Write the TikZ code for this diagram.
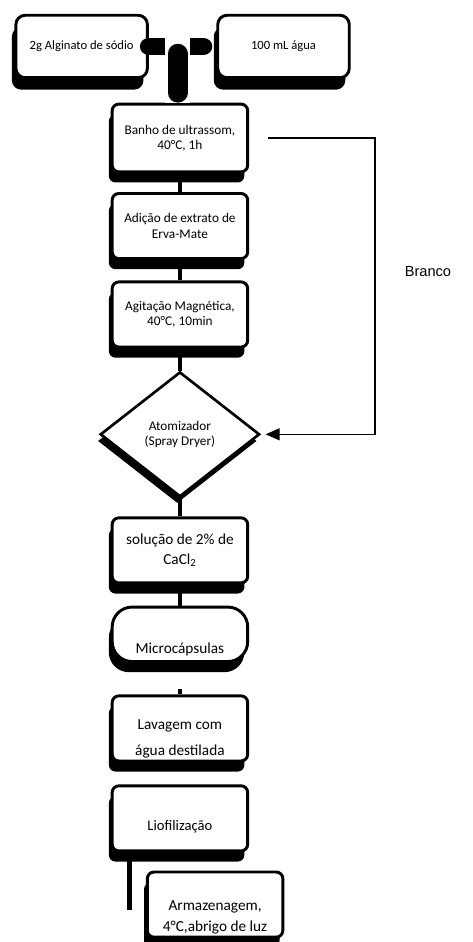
\documentclass[tikz,border=0pt]{standalone}
\usepackage{fontspec}
\setmainfont{Carlito}
\newfontfamily\arialfont{Liberation Sans}
\usetikzlibrary{arrows.meta, shapes.geometric, shadows}
\newcommand{\lowtext}[1]{\rule{0pt}{#1}}

\begin{document}
\begin{tikzpicture}[
    src/.style={draw, line width=2.2pt, rounded corners=7pt, fill=white,
                align=center, font=\fontsize{9.5}{11}\selectfont,
                minimum width=99pt, minimum height=47pt, inner sep=2pt,
                drop shadow={shadow xshift=-3pt, shadow yshift=-9pt,
                             opacity=1, fill=black}},
    stage/.style={draw, line width=2.2pt, rounded corners=5pt, fill=white,
                  align=center, font=\fontsize{10}{11.5}\selectfont,
                  minimum width=102pt, minimum height=49pt, inner sep=2pt,
                  drop shadow={shadow xshift=-2.5pt, shadow yshift=-8pt,
                               opacity=1, fill=black}},
    big/.style={font=\fontsize{11.5}{15}\selectfont},
    atomz/.style={diamond, draw, line width=2pt, fill=white, align=center,
                  font=\fontsize{10}{11}\selectfont, inner sep=0pt,
                  minimum width=120pt, minimum height=94pt,
                  drop shadow={shadow xshift=-2pt, shadow yshift=-5pt,
                               opacity=1, fill=black}},
    link/.style={line width=3.6pt},
    tee/.style={line width=13.5pt, line cap=round},
    back/.style={-{Triangle[length=10.5pt, width=9pt]}, line width=0.9pt},
]
\useasboundingbox (0,0) rectangle (12.51,24.92);
\node[src] (alg)  at (2.16,23.69) {2g Alginato de sódio};
\node[src] (agua) at (7.50,23.69) {100 mL água};
\node[stage, minimum height=51pt] (banho) at (4.76,21.27) {Banho de ultrassom,\\40°C, 1h};
\node[stage] (adic) at (4.76,18.94) {Adição de extrato de\\Erva-Mate};
\node[stage] (agit) at (4.76,16.60) {Agitação Magnética,\\40°C, 10min};
\node[atomz] (atom) at (4.76,13.43) {Atomizador\\(Spray Dryer)};
\node[stage, big] (sol) at (4.76,10.36) {solução de 2\% de\\CaCl\textsubscript{2}};
\node[stage, big, minimum height=41pt, rounded corners=15pt] (micro) at (4.76,8.14)
   {\lowtext{31pt}Microcápsulas};
\node[stage, big] (lav) at (4.76,5.65) {\lowtext{23pt}Lavagem com\\[5pt]água destilada};
\node[stage, font=\fontsize{11}{13}\selectfont] (liof) at (4.76,3.27) {\lowtext{20pt}Liofilização};
\node[stage, big] (arm) at (5.69,0.99) {\lowtext{27pt}Armazenagem,\\[0.75pt]4°C,abrigo de luz};
\node[font=\arialfont\fontsize{11}{13}\selectfont] (branco) at (11.32,17.73) {Branco};
% juncao dos dois reagentes
\coordinate (teetop) at (4.70,23.92);
\draw[tee, shorten >=9.75pt] (alg.east) -- (agua.west);
\draw[white, line width=18.5pt] (teetop) -- (teetop |- banho.north);
\draw[tee, line width=15pt, shorten <=12pt, shorten >=7.5pt] (teetop) -- (teetop |- banho.north);
% etapas
\draw[link] (banho) -- (adic);
\draw[link] (adic) -- (agit);
\draw[link] (agit) -- (atom);
\draw[link] (atom) -- (sol);
\draw[link] (sol) -- (micro);
\draw[link, shorten <=19.5pt] (micro) -- (lav);
\coordinate (armtail) at (3.43,0.85);
\draw[link] (liof.south -| armtail) -- (armtail);
% branco
\coordinate (bend) at (9.92,21.27);
\draw[back, shorten <=14pt, shorten >=3.5pt] (banho.east) -- (bend) |- (atom.east);
\end{tikzpicture}
\end{document}
